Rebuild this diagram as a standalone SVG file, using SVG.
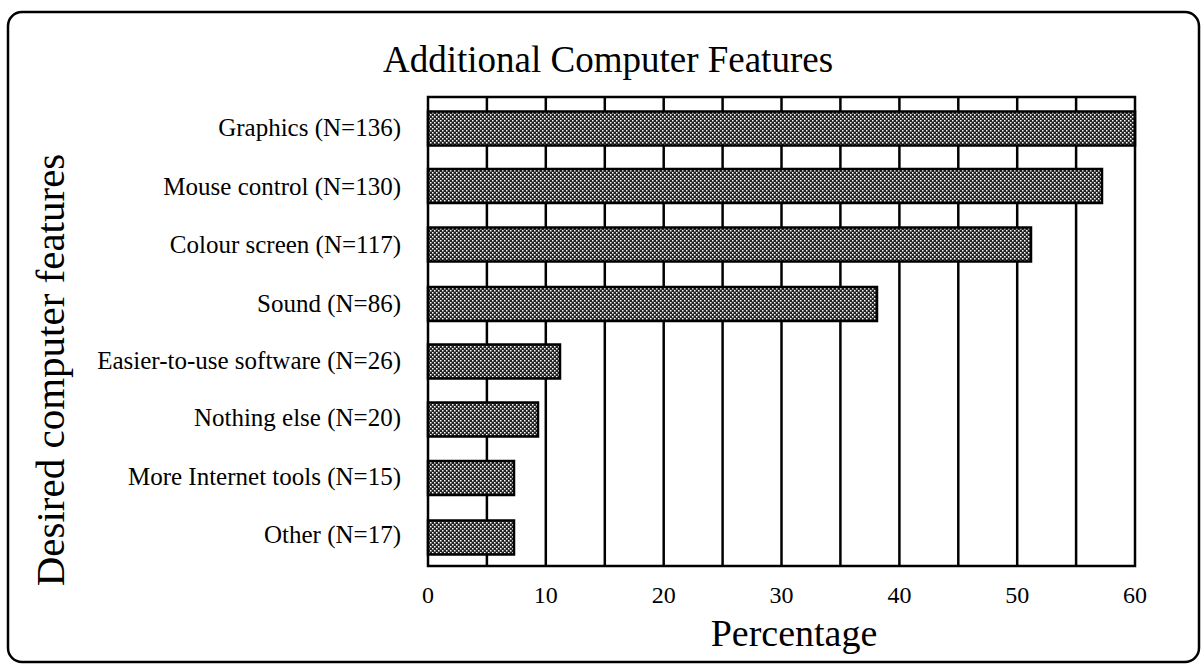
<svg xmlns="http://www.w3.org/2000/svg" width="1204" height="668" viewBox="0 0 1204 668">
<style>
.lbl{font-family:"Liberation Serif","Times New Roman",serif;font-size:25px;fill:#000;text-anchor:end}
.tick{font-family:"Liberation Serif","Times New Roman",serif;font-size:24px;fill:#000;text-anchor:middle}
.title{font-family:"Liberation Serif","Times New Roman",serif;font-size:37px;fill:#000;text-anchor:middle}
.axt{font-family:"Liberation Serif","Times New Roman",serif;font-size:38px;fill:#000;text-anchor:middle}
.grid{stroke:#000;stroke-width:2.5}
.bar{fill:url(#dots);stroke:#000;stroke-width:2.5}
</style>
<defs>
<pattern id="dots" width="4" height="4" patternUnits="userSpaceOnUse">
<rect width="4" height="4" fill="#222"/>
<rect x="0" y="0" width="1.5" height="1.5" fill="#fff"/>
<rect x="2" y="2" width="1.5" height="1.5" fill="#fff"/>
</pattern>
</defs>
<rect width="1204" height="668" fill="#fff"/>
<rect id="frame" x="8" y="12" width="1191" height="650" rx="14" fill="none" stroke="#000" stroke-width="2.5"/>
<text id="title" class="title" x="608" y="72">Additional Computer Features</text>
<g id="plot">
<rect x="428" y="97" width="707" height="469" fill="#fff" stroke="#000" stroke-width="2.5"/>
<g id="gridlines" class="grid">
<line x1="486.9" y1="97" x2="486.9" y2="566"/>
<line x1="545.8" y1="97" x2="545.8" y2="566"/>
<line x1="604.8" y1="97" x2="604.8" y2="566"/>
<line x1="663.7" y1="97" x2="663.7" y2="566"/>
<line x1="722.6" y1="97" x2="722.6" y2="566"/>
<line x1="781.5" y1="97" x2="781.5" y2="566"/>
<line x1="840.4" y1="97" x2="840.4" y2="566"/>
<line x1="899.4" y1="97" x2="899.4" y2="566"/>
<line x1="958.3" y1="97" x2="958.3" y2="566"/>
<line x1="1017.2" y1="97" x2="1017.2" y2="566"/>
<line x1="1076.1" y1="97" x2="1076.1" y2="566"/>
</g>
</g>
<g id="bar-graphics"><rect class="bar" x="428" y="111.5" width="707" height="34"/><text class="lbl" x="401" y="136">Graphics (N=136)</text></g>
<g id="bar-mouse"><rect class="bar" x="428" y="169" width="674" height="34"/><text class="lbl" x="401" y="195">Mouse control (N=130)</text></g>
<g id="bar-colour"><rect class="bar" x="428" y="227.5" width="603" height="34"/><text class="lbl" x="401" y="253">Colour screen (N=117)</text></g>
<g id="bar-sound"><rect class="bar" x="428" y="287" width="449" height="34"/><text class="lbl" x="401" y="312">Sound (N=86)</text></g>
<g id="bar-easier"><rect class="bar" x="428" y="344.5" width="132" height="34"/><text class="lbl" x="401" y="369">Easier-to-use software (N=26)</text></g>
<g id="bar-nothing"><rect class="bar" x="428" y="402.5" width="110" height="34"/><text class="lbl" x="401" y="426">Nothing else (N=20)</text></g>
<g id="bar-internet"><rect class="bar" x="428" y="461" width="86" height="34"/><text class="lbl" x="401" y="485">More Internet tools (N=15)</text></g>
<g id="bar-other"><rect class="bar" x="428" y="520.5" width="86" height="34"/><text class="lbl" x="401" y="543">Other (N=17)</text></g>
<g id="xticks">
<text class="tick" x="428" y="603">0</text>
<text class="tick" x="545.8" y="603">10</text>
<text class="tick" x="663.7" y="603">20</text>
<text class="tick" x="781.5" y="603">30</text>
<text class="tick" x="899.4" y="603">40</text>
<text class="tick" x="1017.2" y="603">50</text>
<text class="tick" x="1135" y="603">60</text>
</g>
<text id="xlabel" class="axt" x="794" y="646">Percentage</text>
<text id="ylabel" class="axt" x="0" y="0" transform="translate(64,370) rotate(-90)" style="font-size:41px">Desired computer features</text>
</svg>
